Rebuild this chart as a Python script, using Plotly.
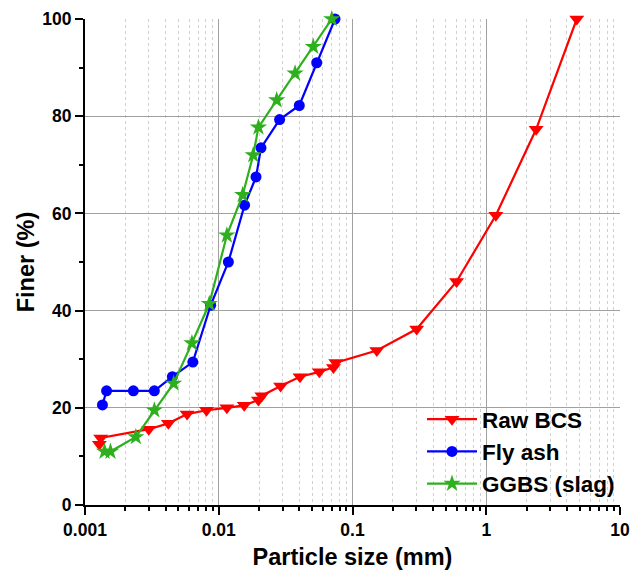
import plotly.graph_objects as go

raw_x = [0.00128, 0.00131, 0.0030, 0.0042, 0.0058, 0.0081, 0.0115, 0.0155, 0.0198, 0.0210,
         0.0290, 0.0405, 0.0565, 0.0720, 0.0750, 0.152, 0.302, 0.60, 1.18, 2.36, 4.75]
raw_y = [12.5, 13.8, 15.6, 16.8, 18.7, 19.5, 20.0, 20.5, 21.6, 22.5,
         24.5, 26.4, 27.4, 28.3, 29.3, 31.8, 36.2, 46.0, 59.6, 77.3, 100.0]

fly_x = [0.00135, 0.00145, 0.0023, 0.0033, 0.0045, 0.0064, 0.0087, 0.0118, 0.0156, 0.0190,
         0.0207, 0.0285, 0.040, 0.054, 0.074]
fly_y = [20.6, 23.5, 23.5, 23.5, 26.4, 29.4, 41.1, 50.0, 61.7, 67.5,
         73.5, 79.3, 82.2, 91.0, 100.0]

ggbs_x = [0.0014, 0.00155, 0.0024, 0.0033, 0.0046, 0.0063, 0.0085, 0.0115, 0.0151, 0.0181,
          0.0198, 0.0271, 0.0372, 0.0509, 0.070]
ggbs_y = [11.0, 11.0, 14.0, 19.5, 25.0, 33.3, 41.4, 55.5, 63.8, 72.0,
          77.7, 83.3, 88.8, 94.3, 100.0]

x_tickvals = [0.001, 0.01, 0.1, 1, 10]
x_ticktext = ["0.001", "0.01", "0.1", "1", "10"]
x_minor_tickvals = [m * d for d in [0.001, 0.01, 0.1, 1] for m in range(2, 10)]
y_tickvals = [0, 20, 40, 60, 80, 100]

FONT = "Liberation Sans, Arial, sans-serif"

fig = go.Figure()
fig.add_trace(go.Scatter(x=raw_x, y=raw_y, name="Raw BCS", mode="lines+markers",
                         line=dict(color="#ff0000", width=2.2),
                         marker=dict(symbol="triangle-down", size=13, color="#ff0000"),
                         cliponaxis=False))
fig.add_trace(go.Scatter(x=fly_x, y=fly_y, name="Fly ash", mode="lines+markers",
                         line=dict(color="#0000ff", width=2.2),
                         marker=dict(symbol="circle", size=11, color="#0000ff"),
                         cliponaxis=False))
fig.add_trace(go.Scatter(x=ggbs_x, y=ggbs_y, name="GGBS (slag)", mode="lines+markers",
                         line=dict(color="#2eb01e", width=2.2),
                         marker=dict(symbol="star", size=13, color="#2eb01e"),
                         cliponaxis=False))

fig.update_layout(
    width=631, height=571,
    margin=dict(l=85, r=11, t=19, b=66),
    plot_bgcolor="white", paper_bgcolor="white",
    font=dict(family=FONT, color="black", weight="bold"),
    legend=dict(x=1.0, y=0.0, xanchor="right", yanchor="bottom",
                bgcolor="rgba(255,255,255,0)", font=dict(size=22.5, family=FONT, weight="bold"),
                tracegroupgap=0, itemwidth=50),
    showlegend=True,
)
fig.update_xaxes(
    type="log", range=[-3, 1], automargin=False,
    tickvals=x_tickvals, ticktext=x_ticktext,
    ticks="outside", ticklen=8, tickwidth=1.5, tickcolor="black",
    showline=True, linecolor="black", linewidth=2,
    showgrid=True, gridcolor="#a0a0a0", gridwidth=1,
    tickfont=dict(size=17.5, family=FONT, weight="bold"),
    title=dict(text="Particle size (mm)", font=dict(size=23.5, family=FONT, weight="bold"), standoff=10),
    minor=dict(tickvals=x_minor_tickvals, ticks="outside", ticklen=4, tickcolor="black",
               showgrid=True, gridcolor="#d0d0d0", griddash="dot", gridwidth=1),
    zeroline=False,
)
fig.update_yaxes(
    range=[0, 100], automargin=False,
    tickvals=y_tickvals,
    ticks="outside", ticklen=8, tickwidth=1.5, tickcolor="black",
    showline=True, linecolor="black", linewidth=2,
    showgrid=True, gridcolor="#a0a0a0", gridwidth=1,
    tickfont=dict(size=17.5, family=FONT, weight="bold"),
    title=dict(text="Finer (%)", font=dict(size=23.5, family=FONT, weight="bold"), standoff=1),
    minor=dict(dtick=10, ticks="outside", ticklen=4, tickcolor="black", showgrid=False),
    zeroline=False,
)

fig.write_html("out.html", config={"displayModeBar": False},
               post_script="document.body.style.margin='0';")
